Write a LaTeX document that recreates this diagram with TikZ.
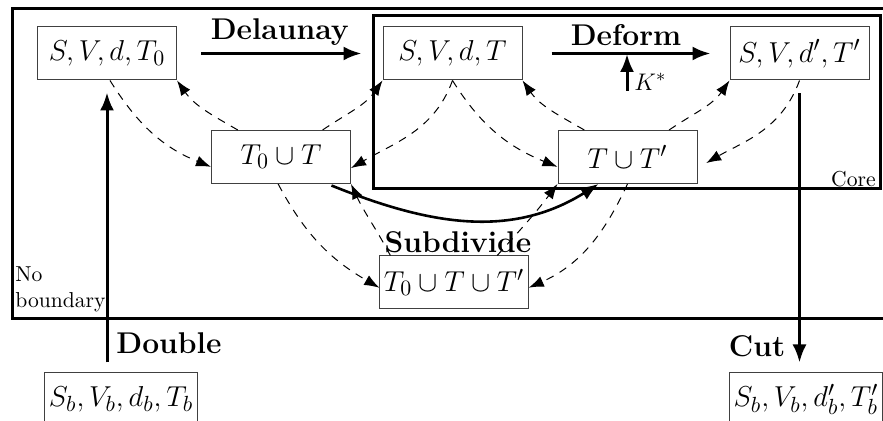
\documentclass[tikz,border=0pt]{standalone}
\usetikzlibrary{arrows.meta}
\begin{document}
\begin{tikzpicture}[x=0.5pt,y=-0.5pt,
  box/.style={draw=black!75, line width=0.5pt, minimum width=69.5pt, minimum height=26.5pt, inner sep=2pt, font=\fontsize{15.5}{18}\selectfont},
  lbl/.style={font=\fontsize{15}{18}\selectfont\bfseries, inner sep=1pt},
  smalltxt/.style={font=\fontsize{10.8}{12.8}\selectfont, inner sep=1pt},
  mainarr/.style={line width=1.5pt, -{Latex[length=9pt,width=7pt]}},
  dasharr/.style={line width=0.5pt, dash pattern=on 4pt off 3.5pt, -{Latex[length=7.5pt,width=5.5pt]}},
  framebox/.style={line width=1.5pt}]
\clip (0,0) rectangle (883,421);
\draw[framebox] (12,9) rectangle (910,319);
\draw[framebox] (373,16) rectangle (880,189);

\node[box] (A) at (107,53.5) {$S,V,d,T_0$};
\node[box] (B) at (452.5,53.5) {$S,V,d,T$};
\node[box] (C) at (799.5,53.5) {$S,V,d',T'$};
\node[box] (D) at (281,157) {$T_0\cup T$};
\node[box] (E) at (627.5,157) {$T\cup T'$};
\node[box] (F) at (454,282.5) {$T_0\cup T\cup T'$};
\node[box] (G) at (121,399.5) {$S_b,V_b,d_b,T_b$};
\node[box] (H) at (806,399.5) {$S_b,V_b,d'_b,T'_b$};

% main arrows
\draw[mainarr, shorten <=12pt, shorten >=10.5pt] (A) -- node[lbl, above=2pt] {Delaunay} (B);
\draw[mainarr, shorten <=14.5pt, shorten >=9.5pt] (B) -- node[lbl, above=2pt] {Deform} (C);
\coordinate (K) at (627,91);
\draw[mainarr] (K) -- ++(0,-37) ;
\node[anchor=west, inner sep=1pt, font=\fontsize{12.5}{14}\selectfont] (Klbl) at (632,82) {$K^*$};
\draw[mainarr, shorten <=5pt, shorten >=6pt] (A.south |- G.north) -- (A.south);
\node[lbl] (dbl) at (169,343) {Double};
\draw[mainarr, shorten <=6.5pt, shorten >=5pt] (C.south) -- (C.south |- H.north);
\node[lbl] (cut) at (757,346) {Cut};
\node[lbl] (sub) at (458,242) {Subdivide};
\node[smalltxt, anchor=south west, align=left] (nob) at (13,314) {No\\boundary};
\node[smalltxt, anchor=south east] (core) at (878,189) {Core};

% dashed arrows, left triangle
\draw[dasharr] ([xshift=1.5pt]A.south) to[out=-58, in=158] (D.-172);
\draw[dasharr] (D.148) to[out=150, in=-55] (A.south east);
\draw[dasharr] (D.33) to[out=34, in=-125] (B.south west);
\draw[dasharr] (B.south) to[out=-110, in=30] (D.-9);
% dashed arrows, right triangle
\draw[dasharr] (B.south) to[out=-58, in=158] (E.-172);
\draw[dasharr] (E.148) to[out=150, in=-55] (B.south east);
\draw[dasharr] (E.33) to[out=34, in=-125] (C.south west);
\draw[dasharr, shorten >=5pt] (C.south) to[out=-110, in=30] (E.-9);
% dashed arrows, to/from F
\draw[dasharr] (D.-96) to[out=-62, in=150] (F.184);
\draw[dasharr] (E.south) to[out=-115, in=24] (F.-4);
\draw[dasharr] (F.157) to[out=118, in=-65] (D.south east);
\draw[dasharr] (F.32) to[out=48, in=-127] (E.south west);
% solid curve
\draw[mainarr, line width=1.3pt, shorten <=2pt] (D.-30) to[out=-22, in=-148] (E.-137);
\end{tikzpicture}
\end{document}
